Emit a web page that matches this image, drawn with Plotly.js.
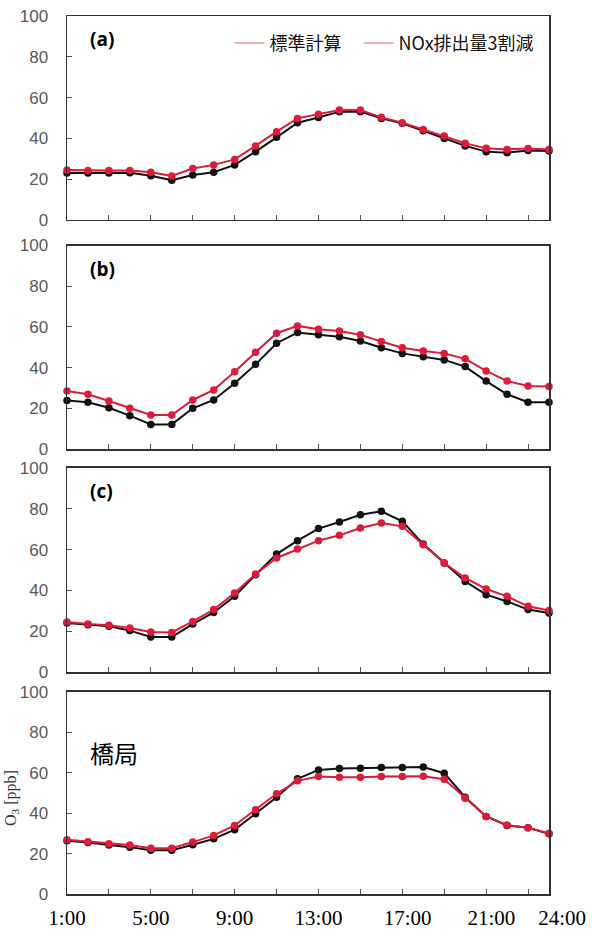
<!DOCTYPE html>
<html>
<head>
<meta charset="utf-8">
<script src="https://cdn.plot.ly/plotly-3.0.1.min.js"></script>
<style>
html,body{margin:0;padding:0;background:#fff;}
#chart{width:592px;height:930px;}
</style>
</head>
<body>
<div id="chart"></div>
<script>
// ---- data ----
const hours = [1,2,3,4,5,6,7,8,9,10,11,12,13,14,15,16,17,18,19,20,21,22,23,24];
const tickVals = [1,3,5,7,9,11,13,15,17,19,21,23,24];
const tickText = ['1:00','','5:00','','9:00','','13:00','','17:00','','21:00','','24:00'];
const seriesNames = ['標準計算', 'NOx排出量3割減'];
const panelLabels = ['(a)', '(b)', '(c)', '橋局'];
const yTitle = 'O<sub>3</sub> [ppb]';

const standardA = [23,23,23,23.2,21.7,19.5,22,23.4,27,33.5,40.5,47.7,50.2,53.1,53.1,49.8,47.4,43.8,40,36.3,33.5,33,34,33.8];
const reducedA  = [24.5,24.2,24.2,24.2,23.4,21.6,25.2,27,29.7,36.3,43.3,49.8,51.8,53.9,53.9,50.3,47.7,44.4,41.2,37.6,35.1,34.6,35,34.6];

const standardB = [23.8,23,20.3,16.4,12.1,12.1,20,24.1,32.3,41.6,52,57.2,56.1,55.2,53.1,49.8,47,45.4,43.8,40.5,33.4,26.9,23,23];
const reducedB  = [28.5,26.9,23.6,20,16.7,16.7,24.1,29,38,47.5,56.9,60.5,58.9,58,56.1,52.8,49.8,48.2,47,44.3,38.4,33.4,31,30.7];

const standardC = [24,23.2,22.4,20.3,17.2,17.2,23.5,29.2,37.1,47.7,57.8,64.4,70.3,73.5,77.1,78.8,73.9,62.7,53.4,44.4,37.9,34.6,30.6,28.9];
const reducedC  = [24.5,23.5,22.9,21.6,19.6,19.4,24.8,30.6,38.7,48,55.9,60.3,64.4,67,70.6,73,71.4,62.4,53.4,46.1,40.7,37.1,32.2,30.1];

const standardD = [26.4,25.5,24.2,23.2,21.6,21.6,24.4,27.3,31.8,39.7,47.9,57,61.4,62.1,62.3,62.6,62.6,62.9,59.8,47.9,38.4,33.9,32.8,29.8];
const reducedD  = [26.9,25.9,24.9,24.2,22.7,22.7,25.7,29,33.9,41.7,49.6,56,58.2,57.8,57.8,58.2,58.2,58.3,56.8,47.4,38.4,34.1,32.8,30.1];

const standardAll = [standardA, standardB, standardC, standardD];
const reducedAll  = [reducedA, reducedB, reducedC, reducedD];

// ---- styles ----
const BLACK = '#111111';
const RED = '#dc1c3a';
const domains = [[0.7677,1.0],[0.5068,0.7386],[0.2528,0.4852],[0.0,0.2301]];
// label nudges (non-breaking spaces shift the centred labels to the right as in the reference)
const NB = '\u00A0';
const shiftedText = tickText.map(function(t){
  if (t === '17:00' || t === '21:00') return NB + NB + t;
  if (t === '24:00') return NB + NB + NB + NB + NB + t;
  return t;
});
const legendText = [seriesNames[0] + NB + NB + NB, seriesNames[1]];

const traces = [];
for (let i = 0; i < 4; i++) {
  const ax = i === 0 ? '' : String(i+1);
  traces.push({
    x: hours, y: standardAll[i], xaxis: 'x'+ax, yaxis: 'y'+ax,
    type: 'scatter', mode: 'lines+markers', showlegend: false,
    line: {color: BLACK, width: 2}, marker: {color: BLACK, size: 7.5},
    cliponaxis: false, name: seriesNames[0]
  });
  traces.push({
    x: hours, y: reducedAll[i], xaxis: 'x'+ax, yaxis: 'y'+ax,
    type: 'scatter', mode: 'lines+markers', showlegend: false,
    line: {color: RED, width: 2}, marker: {color: RED, size: 7.5},
    cliponaxis: false, name: seriesNames[1]
  });
}
// legend entries (pale icon style as in the reference)
legendText.forEach(function(n){
  traces.push({x:[null], y:[null], type:'scatter', mode:'lines', name:n,
    line:{color:'#e79aa6', width:1.5}, showlegend:true, hoverinfo:'skip'});
});

const layout = {
  width: 592, height: 930,
  margin: {l: 67, r: 43, t: 16, b: 36},
  paper_bgcolor: '#fff', plot_bgcolor: '#fff',
  showlegend: true,
  legend: {
    orientation: 'h', x: 0.337, xanchor: 'left', y: 0.99, yanchor: 'top',
    yref: 'paper', bgcolor: 'rgba(0,0,0,0)',
    font: {family: 'Noto Sans CJK JP, Liberation Sans, sans-serif', size: 18, color: '#111'},
    itemwidth: 30, tracegroupgap: 0
  },
  annotations: [],
  font: {family: 'Liberation Sans, Arial, sans-serif'}
};

for (let i = 0; i < 4; i++) {
  const ax = i === 0 ? '' : String(i+1);
  layout['xaxis'+ax] = {
    domain: [0,1], anchor: 'y'+ax, range: [1,24],
    showline: true, mirror: true, linecolor: '#333', linewidth: 1.5,
    ticks: 'inside', ticklen: 5, tickcolor: '#555', tickwidth: 1,
    tickmode: 'array', tickvals: tickVals,
    ticktext: i === 3 ? shiftedText : tickVals.map(function(){return ' ';}),
    showticklabels: i === 3,
    tickangle: 0,
    ticklabelstandoff: 4,
    tickfont: {family: 'Liberation Serif, Times New Roman, serif', size: 21, color: '#000'},
    showgrid: false, zeroline: false, fixedrange: true
  };
  layout['yaxis'+ax] = {
    domain: domains[i], anchor: 'x'+ax, range: [0,100],
    tickvals: [0,20,40,60,80,100],
    showline: true, mirror: true, linecolor: '#333', linewidth: 1.5,
    ticks: 'inside', ticklen: 5, tickcolor: '#555',
    ticklabelstandoff: 14,
    tickfont: {family: 'Liberation Sans, Arial, sans-serif', size: 17, color: '#595959'},
    showgrid: false, zeroline: false, fixedrange: true
  };
  layout.annotations.push({
    xref: 'x'+ax+' domain', yref: 'y'+ax+' domain',
    x: 0.044, y: i === 3 ? 0.70 : 0.885, xanchor: 'left', yanchor: 'middle',
    text: i === 3 ? panelLabels[i] : '<b>' + panelLabels[i] + '</b>',
    showarrow: false,
    font: i === 3 ? {family: 'Noto Sans CJK JP, sans-serif', size: 24, color: '#000'}
                  : {family: 'Open Sans, Liberation Sans, sans-serif', size: 19, color: '#000'}
  });
}
// y-axis title at the far left edge
layout.annotations.push({
  xref: 'paper', yref: 'paper', x: (11-67)/482, y: (894-798)/878,
  xanchor: 'center', yanchor: 'middle', textangle: -90,
  text: yTitle, showarrow: false,
  font: {family: 'Liberation Serif, serif', size: 16, color: '#333'}
});

Plotly.newPlot('chart', traces, layout, {displayModeBar: false, staticPlot: true});
</script>
</body>
</html>
